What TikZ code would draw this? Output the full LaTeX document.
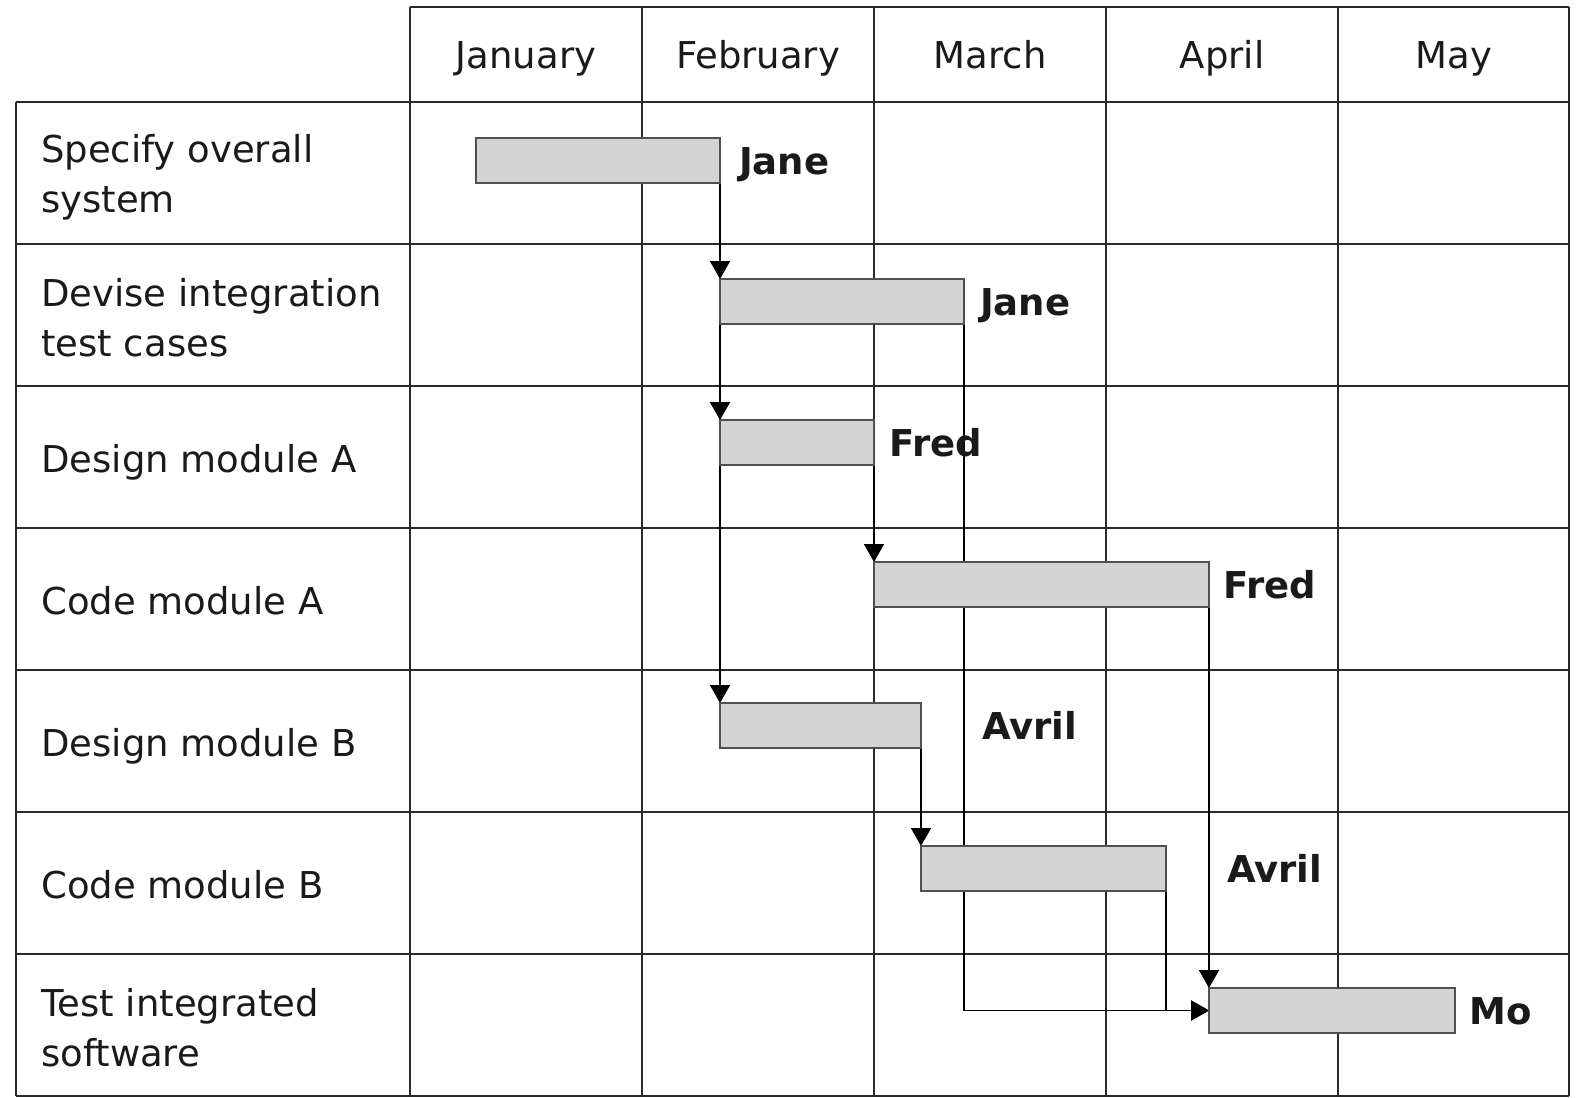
\documentclass[tikz,border=0pt]{standalone}
\usepackage{fontspec}
\setmainfont{DejaVu Sans}
\usetikzlibrary{arrows.meta}
\definecolor{gridc}{HTML}{2A2A2A}
\definecolor{barfill}{HTML}{D4D4D4}
\definecolor{barline}{HTML}{505050}
\definecolor{txt}{HTML}{1A1A1A}
\pgfdeclarelayer{gridlayer}
\pgfdeclarelayer{deplayer}
\pgfsetlayers{gridlayer,deplayer,main}
\begin{document}
\begin{tikzpicture}[x=1pt,y=-1pt,
  gridline/.style={draw=gridc, line width=2.2pt},
  bar/.style={draw=barline, fill=barfill, line width=1.6pt, inner sep=0pt, outer sep=0pt, minimum height=45pt, anchor=north west},
  dep/.style={draw=black, line width=1.8pt, -{Triangle[width=20pt,length=18pt]}},
  who/.style={font=\fontsize{37}{44}\selectfont\bfseries, text=txt, anchor=west, inner sep=0pt, text height=27pt, text depth=0pt},
  task/.style={font=\fontsize{37}{50}\selectfont, text=txt, anchor=west, align=left, inner sep=0pt},
  month/.style={font=\fontsize{37}{44}\selectfont, text=txt, inner sep=0pt, text height=27pt, text depth=0pt}]
\begin{pgfonlayer}{gridlayer}
\fill[white] (0,0) rectangle (1580,1096);
\draw[gridline] (410,7) -- (1569,7);
\foreach \x in {410,642,874,1106,1338,1569} \draw[gridline] (\x,7) -- (\x,1096);
\draw[gridline] (16,102) -- (16,1096);
\foreach \y in {102,244,386,528,670,812,954,1096} \draw[gridline] (16,\y) -- (1569,\y);
\end{pgfonlayer}
\useasboundingbox (0,0) rectangle (1580,1096);
% months
\node[month] (m1) at (526,55) {January};
\node[month] (m2) at (758,55) {February};
\node[month] (m3) at (990,55) {March};
\node[month] (m4) at (1222,55) {April};
\node[month] (m5) at (1454,55) {May};
% tasks
\node[task] (t1) at (41,177) {Specify overall\\system};
\node[task] (t2) at (41,318) {Devise integration\\test cases};
\node[task] (t3) at (41,462) {Design module A};
\node[task] (t4) at (41,601) {Code module A};
\node[task] (t5) at (41,746) {Design module B};
\node[task] (t6) at (41,885) {Code module B};
\node[task] (t7) at (41,1028) {Test integrated\\software};
% bars
\node[bar, minimum width=244pt] (b1) at (476,138) {};
\node[bar, minimum width=244pt] (b2) at (720,279) {};
\node[bar, minimum width=154pt] (b3) at (720,420) {};
\node[bar, minimum width=335pt] (b4) at (874,562) {};
\node[bar, minimum width=201pt] (b5) at (720,703) {};
\node[bar, minimum width=245pt] (b6) at (921,846) {};
\node[bar, minimum width=246pt] (b7) at (1209,988) {};
% people
\node[who] (w1) at ([xshift=19pt]b1.east) {Jane};
\node[who] (w2) at ([xshift=16pt]b2.east) {Jane};
\node[who] (w3) at ([xshift=15pt]b3.east) {Fred};
\node[who] (w4) at ([xshift=14pt]b4.east) {Fred};
\node[who] (w5) at ([xshift=61pt]b5.east) {Avril};
\node[who] (w6) at ([xshift=61pt]b6.east) {Avril};
\node[who] (w7) at ([xshift=14pt]b7.east) {Mo};
% dependencies
\begin{pgfonlayer}{deplayer}
\draw[dep] (b1.south east) -- (b2.north west);
\draw[dep] (b1.south east) -- (b3.north west);
\draw[dep] (b1.south east) -- (b5.north west);
\draw[dep] (b3.south east) -- (b4.north west);
\draw[dep] (b5.south east) -- (b6.north west);
\draw[dep] (b4.south east) -- (b7.north west);
\draw[dep] (b2.south east) |- (b7.west);
\draw[dep] (b6.south east) |- (b7.west);
\end{pgfonlayer}
\end{tikzpicture}
\end{document}
